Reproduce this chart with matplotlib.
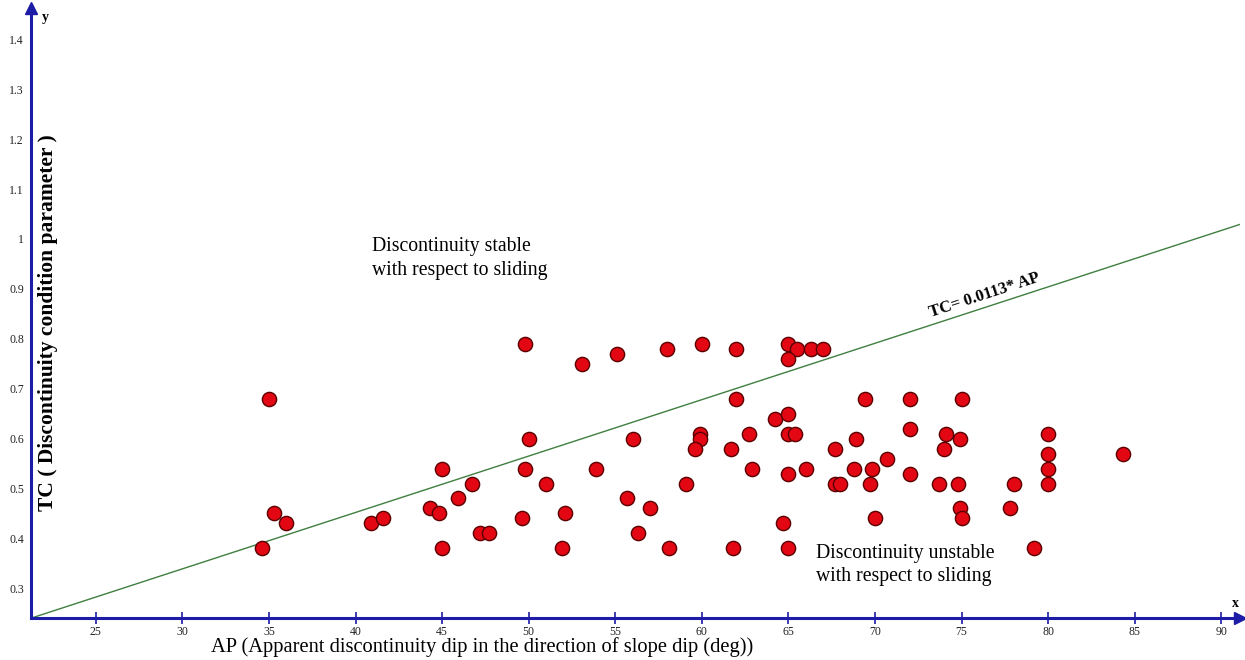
import numpy as np
import matplotlib.pyplot as plt

plt.rcParams['font.family'] = ['Liberation Serif', 'DejaVu Serif']

# apparent dip AP (deg) and condition parameter TC
ap = [34.6, 35.0, 35.3, 36.0, 40.9, 41.6, 44.3, 44.8, 45.0, 45.0,
      45.9, 46.7, 47.2, 47.7, 49.8, 50.0, 49.8, 49.6, 51.0, 51.9,
      52.1, 53.1, 55.1, 58.0, 60.0, 62.0, 65.0, 65.5, 66.3, 67.0,
      65.0, 62.0, 64.2, 65.0, 65.0, 65.4, 56.0, 59.9, 59.9, 59.6,
      61.7, 62.7, 67.7, 53.9, 62.9, 65.0, 66.0, 68.8, 68.9, 59.1,
      67.7, 68.0, 55.7, 57.0, 56.3, 64.7, 58.1, 61.8, 65.0, 69.4,
      72.0, 75.0, 72.0, 74.1, 74.9, 74.0, 80.0, 80.0, 80.0, 80.0,
      84.3, 70.7, 69.8, 72.0, 69.7, 73.7, 74.8, 78.0, 74.9, 75.0,
      77.8, 70.0, 79.2]
tc = [0.38, 0.68, 0.45, 0.43, 0.43, 0.44, 0.46, 0.45, 0.54, 0.38,
      0.48, 0.51, 0.41, 0.41, 0.79, 0.60, 0.54, 0.44, 0.51, 0.38,
      0.45, 0.75, 0.77, 0.78, 0.79, 0.78, 0.79, 0.78, 0.78, 0.78,
      0.76, 0.68, 0.64, 0.65, 0.61, 0.61, 0.60, 0.61, 0.60, 0.58,
      0.58, 0.61, 0.58, 0.54, 0.54, 0.53, 0.54, 0.54, 0.60, 0.51,
      0.51, 0.51, 0.48, 0.46, 0.41, 0.43, 0.38, 0.38, 0.38, 0.68,
      0.68, 0.68, 0.62, 0.61, 0.60, 0.58, 0.61, 0.57, 0.54, 0.51,
      0.57, 0.56, 0.54, 0.53, 0.51, 0.51, 0.51, 0.51, 0.46, 0.44,
      0.46, 0.44, 0.38]

slope = 0.0113  # TC = 0.0113 * AP
xticks = [25, 30, 35, 40, 45, 50, 55, 60, 65, 70, 75, 80, 85, 90]
yticks = [0.3, 0.4, 0.5, 0.6, 0.7, 0.8, 0.9, 1.0, 1.1, 1.2, 1.3, 1.4]
ytick_labels = ['0.3', '0.4', '0.5', '0.6', '0.7', '0.8', '0.9', '1',
                '1.1', '1.2', '1.3', '1.4']

axis_col = '#1c1ca6'

fig = plt.figure(figsize=(12.45, 6.6), dpi=100)
ax = fig.add_axes([0.0249, 0.0632, 0.9714, 0.9246])
xmin, xmax = 21.26, 91.1
ymin, ymax = 0.24, 1.4626
ax.set_xlim(xmin, xmax)
ax.set_ylim(ymin, ymax)

# threshold line
xs = np.array([xmin, xmax])
ax.plot(xs, slope * xs, color='#3f7f3f', lw=1.0, zorder=2)

# data points
ax.scatter(ap, tc, s=105, color='#e30613', edgecolors='#5a0000', linewidths=1.0, zorder=3)

# axes styling
for side in ['top', 'right']:
    ax.spines[side].set_visible(False)
for side in ['left', 'bottom']:
    ax.spines[side].set_color(axis_col)
    ax.spines[side].set_linewidth(2.2)
ax.plot(xmax, ymin, '>', color=axis_col, ms=8, clip_on=False, zorder=5)
ax.plot(xmin, ymax, '^', color=axis_col, ms=8, clip_on=False, zorder=5)

ax.set_xticks(xticks)
ax.set_xticklabels([str(t) for t in xticks])
ax.set_yticks(yticks)
ax.set_yticklabels(ytick_labels)
ax.tick_params(axis='x', direction='inout', length=9, width=1.2, color=axis_col,
               labelsize=8.5, pad=1, labelcolor='#222222')
ax.tick_params(axis='y', length=0, labelsize=8.5, pad=5, labelcolor='#222222')

# annotations
ax.text(40.95, 1.003, 'Discontinuity stable\nwith respect to sliding',
        fontsize=14.2, ha='left', va='top', linespacing=1.3)
ax.text(66.6, 0.389, 'Discontinuity unstable\nwith respect to sliding',
        fontsize=14.2, ha='left', va='top', linespacing=1.3)
ax.text(76.3, 0.887, 'TC= 0.0113* AP', fontsize=12, fontweight='bold',
        rotation=18.1, ha='center', va='center', rotation_mode='anchor')

fig.text(0.0386, 0.511, 'TC ( Discontinuity condition parameter )', fontsize=15.5,
         fontweight='bold', rotation=90, ha='center', va='center')
fig.text(0.387, 0.020, 'AP (Apparent discontinuity dip in the direction of slope dip (deg))',
         fontsize=14.8, ha='center', va='center')
fig.text(0.036, 0.974, 'y', fontsize=10, fontweight='bold', ha='center', va='center')
fig.text(0.992, 0.085, 'x', fontsize=10, fontweight='bold', ha='center', va='center')

fig.savefig('out.png', dpi=100)
